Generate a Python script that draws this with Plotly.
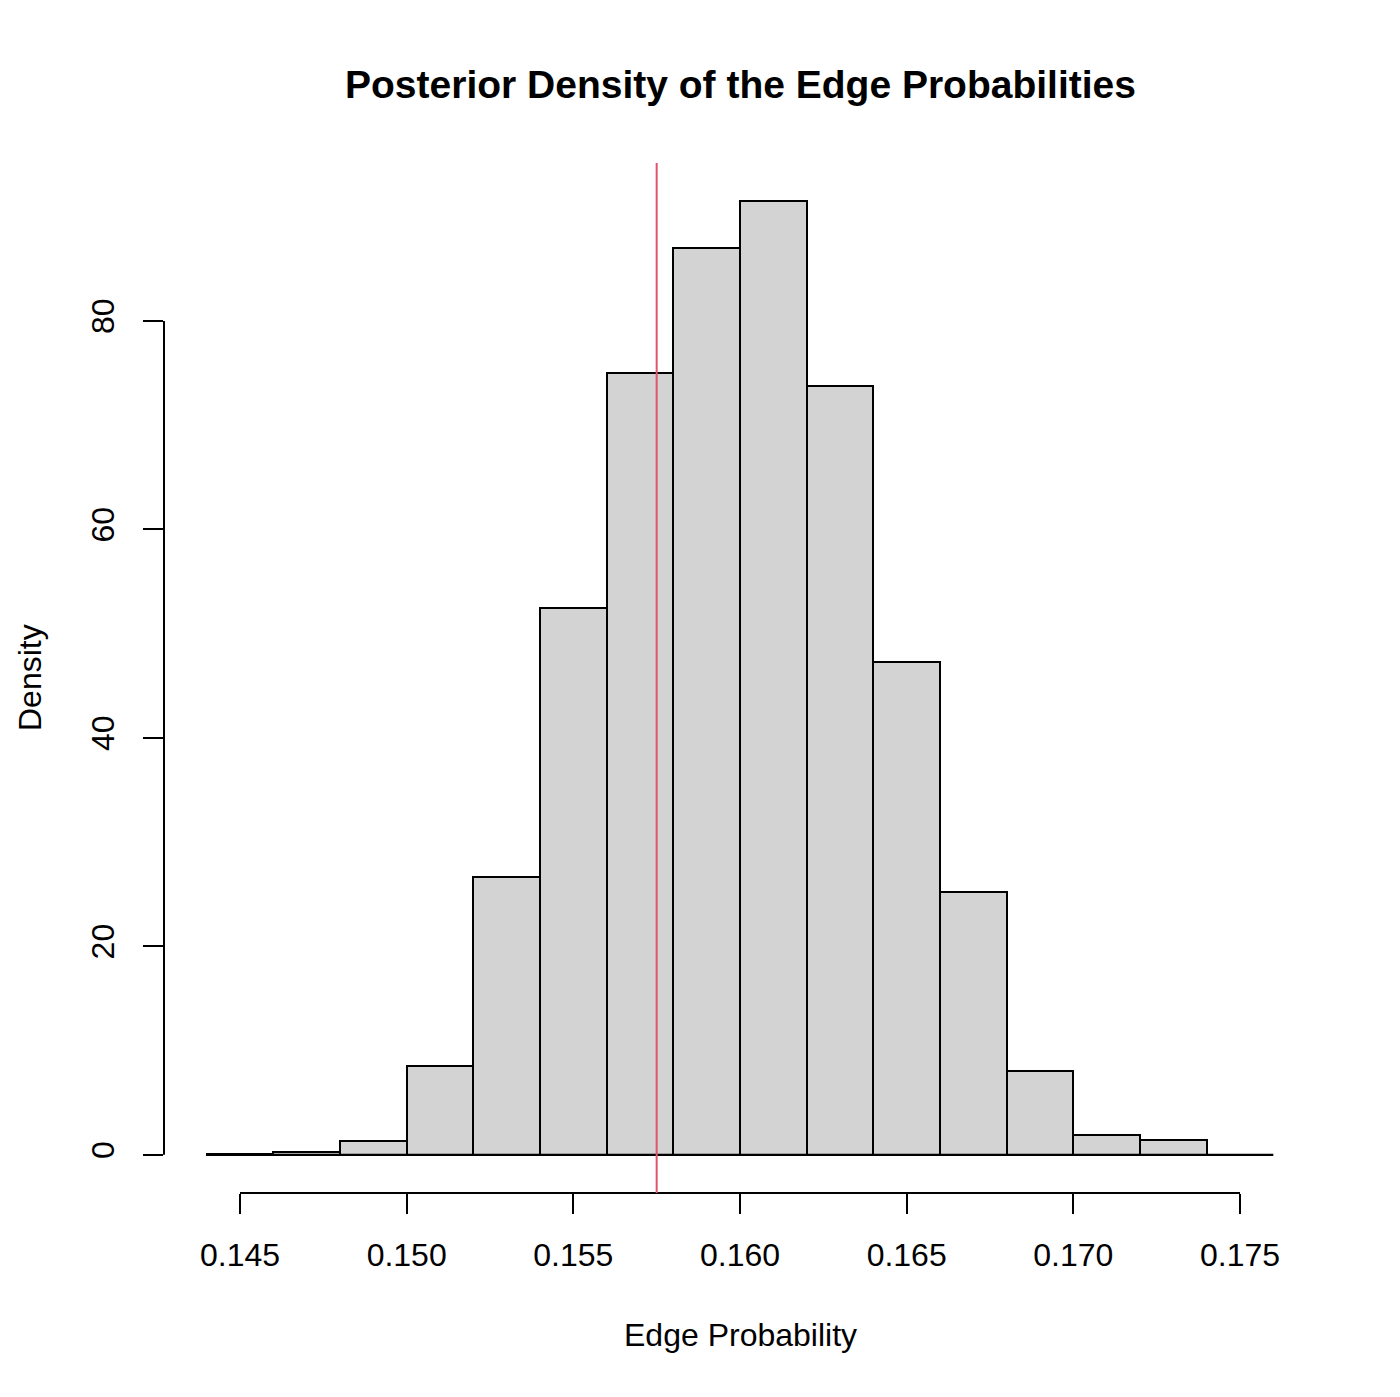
import numpy as np
import plotly.graph_objects as go

# ヒストグラムのビン境界と密度
bin_edges = [0.144, 0.146, 0.148, 0.150, 0.152, 0.154, 0.156, 0.158,
             0.160, 0.162, 0.164, 0.166, 0.168, 0.170, 0.172, 0.174, 0.176]
density = [0.1, 0.3, 1.3, 8.5, 26.7, 52.5, 75.0, 87.0,
           91.5, 73.8, 47.3, 25.2, 8.0, 1.9, 1.4, 0.0]
true_value = 0.1575

x_ticks = [0.145, 0.150, 0.155, 0.160, 0.165, 0.170, 0.175]
x_tick_labels = ["0.145", "0.150", "0.155", "0.160", "0.165", "0.170", "0.175"]
y_ticks = [0, 20, 40, 60, 80]

edges = np.array(bin_edges)
centers = (edges[:-1] + edges[1:]) / 2
widths = np.diff(edges)

# R風の軸範囲（4%拡張）
xr = edges[-1] - edges[0]
x_range = [edges[0] - 0.04 * xr, edges[-1] + 0.04 * xr]
ymax = max(density)
y_range = [-0.04 * ymax, ymax * 1.04]

font = "Liberation Sans, Arial, sans-serif"

bars = go.Bar(
    x=centers, y=density, width=widths,
    marker=dict(color="#D3D3D3", line=dict(color="black", width=2)),
    showlegend=False, hoverinfo="x+y"
)

fig = go.Figure(data=[bars])
fig.update_layout(
    width=1384, height=1381,
    margin=dict(l=156, r=76, t=155, b=196),
    plot_bgcolor="white", paper_bgcolor="white",
    bargap=0,
    font=dict(family=font, color="black", size=32),
    xaxis=dict(
        range=x_range, showgrid=False, zeroline=False, showline=False,
        tickvals=x_ticks, ticktext=x_tick_labels,
        ticks="outside", ticklen=20, tickwidth=2, tickcolor="black",
        ticklabelstandoff=14, tickfont=dict(size=32)
    ),
    yaxis=dict(
        range=y_range, showgrid=False, zeroline=False, showline=False,
        tickvals=y_ticks, ticks="outside", ticklen=20, tickwidth=2,
        tickcolor="black", tickangle=-90, ticklabelstandoff=16,
        tickfont=dict(size=32)
    ),
    shapes=[
        # 軸線（目盛りの範囲のみ）
        dict(type="line", xref="x", yref="paper", x0=x_ticks[0], x1=x_ticks[-1],
             y0=0, y1=0, line=dict(color="black", width=2)),
        dict(type="line", xref="paper", yref="y", x0=0, x1=0,
             y0=y_ticks[0], y1=y_ticks[-1], line=dict(color="black", width=2)),
        # ヒストグラムの底辺
        dict(type="line", xref="x", yref="y", x0=edges[0], x1=edges[-1],
             y0=0, y1=0, line=dict(color="black", width=2)),
        # 真値の縦線
        dict(type="line", xref="x", yref="paper", x0=true_value, x1=true_value,
             y0=0, y1=1, line=dict(color="#DF536B", width=2)),
    ],
    annotations=[
        dict(text="<b>Posterior Density of the Edge Probabilities</b>",
             xref="paper", yref="paper", x=0.5, y=1, yshift=102,
             showarrow=False, font=dict(size=39)),
        dict(text="Edge Probability", xref="paper", yref="paper",
             x=0.5, y=0, yshift=-162, showarrow=False, font=dict(size=32)),
        dict(text="Density", xref="paper", yref="paper", x=0, y=0.5,
             xanchor="center", yanchor="middle", xshift=-134, textangle=-90,
             borderpad=0, showarrow=False, font=dict(size=32)),
    ],
)

fig.write_html("out.html")
